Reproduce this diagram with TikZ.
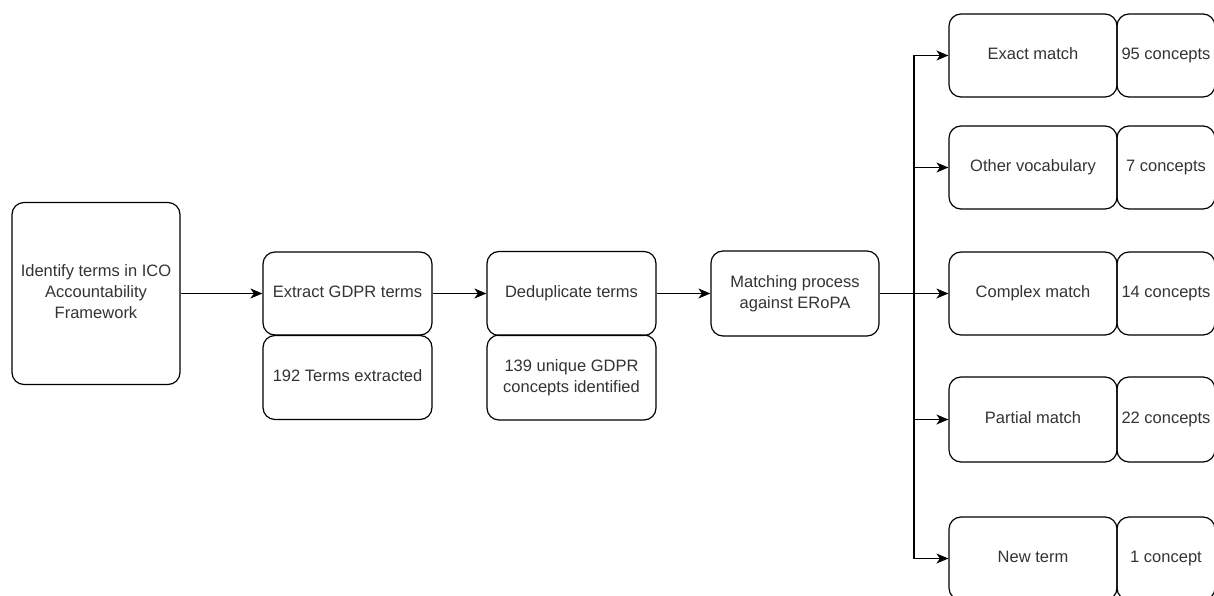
\documentclass[tikz,border=0pt]{standalone}
\usepackage{fontspec}
\setmainfont{Liberation Sans}
\usetikzlibrary{arrows.meta}
\definecolor{txt}{HTML}{333333}
\begin{document}
\begin{tikzpicture}[x=1pt,y=-1pt,
  box/.style={draw=black,line width=1.2pt,rounded corners=12pt,align=center,
    inner sep=0pt,text=txt,font=\fontsize{16.5}{21}\selectfont},
  conn/.style={line width=1.3pt,-{Stealth[length=12pt,width=10pt,inset=3.5pt]}}]
\useasboundingbox (0,0) rectangle (1214,596);
\clip (0,0) rectangle (1214,596);
\newcommand\bx[6]{\node[box,minimum width=#4pt,minimum height=#5pt] (#1) at (#2,#3) {\strut#6\strut};}
\bx{id}{96}{293.5}{168}{182}{Identify terms in ICO\\Accountability\\Framework}
\bx{ex}{347.5}{293.5}{169}{83}{Extract GDPR terms}
\bx{exn}{347.5}{377.5}{169}{84}{192 Terms extracted}
\bx{dd}{571.5}{293.5}{169}{84}{Deduplicate terms}
\bx{ddn}{571.5}{377.5}{169}{85}{139 unique GDPR\\concepts identified}
\bx{mp}{795}{293.5}{168}{85}{Matching process\\against ERoPA}
\bx{em}{1033}{55.5}{168}{83}{Exact match}
\bx{emn}{1166}{55.5}{98}{83}{95 concepts}
\bx{ov}{1033}{167.5}{168}{83}{Other vocabulary}
\bx{ovn}{1166}{167.5}{98}{83}{7 concepts}
\bx{cm}{1033}{293.5}{168}{83}{Complex match}
\bx{cmn}{1166}{293.5}{98}{83}{14 concepts}
\bx{pm}{1033}{419.5}{168}{85}{Partial match}
\bx{pmn}{1166}{419.5}{98}{85}{22 concepts}
\bx{nt}{1033}{558.5}{168}{83}{New term}
\bx{ntn}{1166}{558.5}{98}{83}{1 concept}
\coordinate (j) at (914,293.5);
\draw[conn] (id.east) -- (ex.west);
\draw[conn] (ex.east) -- (dd.west);
\draw[conn] (dd.east) -- (mp.west);
\draw[conn] (mp.east) -- (j) |- (em.west);
\draw[conn] (mp.east) -- (j) |- (ov.west);
\draw[conn] (mp.east) -- (j) -- (cm.west);
\draw[conn] (mp.east) -- (j) |- (pm.west);
\draw[conn] (mp.east) -- (j) |- (nt.west);
\end{tikzpicture}
\end{document}
